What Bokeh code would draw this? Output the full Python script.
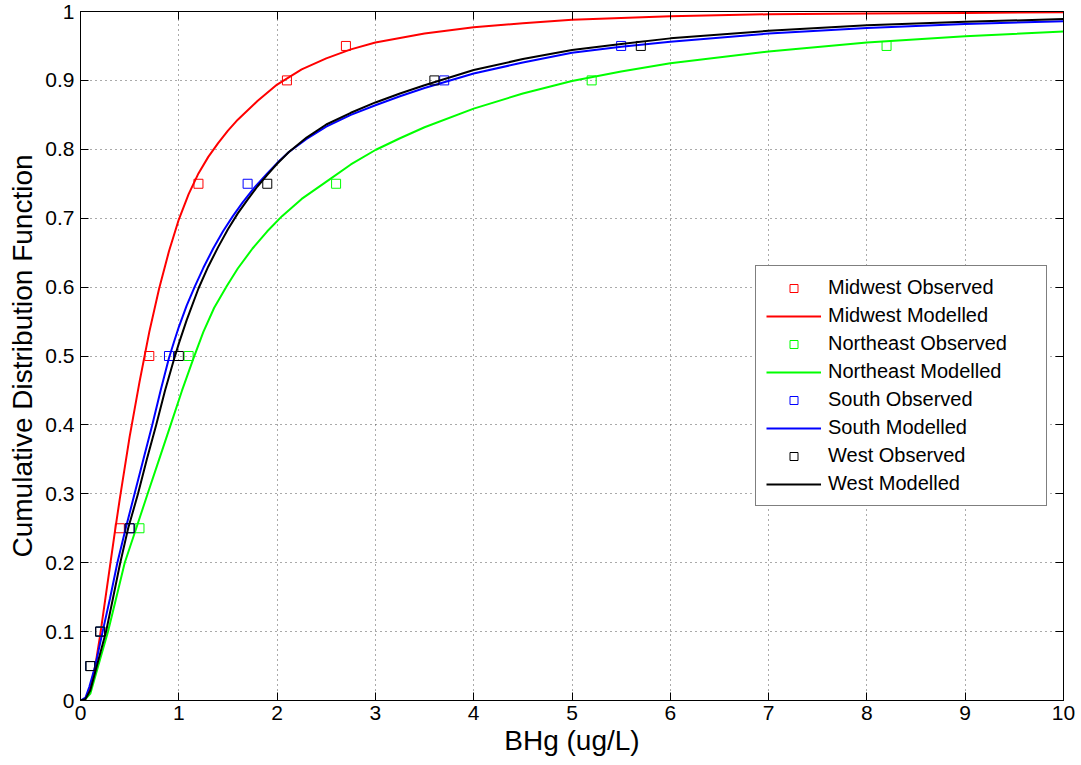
from bokeh.plotting import figure
from bokeh.models import Range1d, FixedTicker, LinearAxis, Legend, LegendItem
from bokeh.embed import file_html
from bokeh.resources import INLINE

# ---- data ----
obs_y = [0.05, 0.10, 0.25, 0.50, 0.75, 0.90, 0.95]
mw_obs_x = [0.1, 0.2, 0.4, 0.7, 1.2, 2.1, 2.7]
ne_obs_x = [0.1, 0.2, 0.6, 1.1, 2.6, 5.2, 8.2]
so_obs_x = [0.1, 0.2, 0.5, 0.9, 1.7, 3.7, 5.5]
we_obs_x = [0.1, 0.2, 0.5, 1.0, 1.9, 3.6, 5.7]

mw_mod_x = [0, 0.05, 0.1, 0.15, 0.2, 0.25, 0.3, 0.35, 0.4, 0.5, 0.6, 0.7, 0.8, 0.9, 1.0, 1.1, 1.2, 1.3,
            1.4, 1.5, 1.6, 1.8, 2.0, 2.25, 2.5, 2.75, 3, 3.5, 4, 4.5, 5, 6, 7, 8, 9, 10]
mw_mod_y = [0, 0.002, 0.018, 0.05, 0.095, 0.145, 0.195, 0.245, 0.293, 0.383, 0.462, 0.535, 0.598, 0.652,
            0.698, 0.735, 0.765, 0.789, 0.809, 0.827, 0.843, 0.870, 0.894, 0.916, 0.932, 0.945, 0.955,
            0.968, 0.977, 0.983, 0.988, 0.993, 0.996, 0.997, 0.998, 0.999]

ne_mod_x = [0, 0.05, 0.1, 0.18, 0.28, 0.365, 0.45, 0.567, 0.683, 0.8, 0.917, 1.033, 1.15, 1.25, 1.36,
            1.49, 1.6, 1.75, 1.9, 2.05, 2.25, 2.48, 2.75, 3.0, 3.25, 3.5, 4, 4.5, 5, 5.5, 6, 7, 8, 9, 10]
ne_mod_y = [0, 0.002, 0.01, 0.05, 0.10, 0.15, 0.20, 0.25, 0.30, 0.35, 0.40, 0.45, 0.497, 0.535, 0.57,
            0.602, 0.627, 0.656, 0.681, 0.703, 0.728, 0.751, 0.778, 0.799, 0.816, 0.832, 0.859, 0.881,
            0.899, 0.913, 0.925, 0.942, 0.955, 0.964, 0.971]

so_mod_x = [0, 0.05, 0.09, 0.15, 0.225, 0.3, 0.375, 0.46, 0.55, 0.64, 0.73, 0.815, 0.9, 0.95, 1.0, 1.08,
            1.16, 1.25, 1.35, 1.45, 1.55, 1.65, 1.76, 1.9, 2.0, 2.12, 2.3, 2.5, 2.75, 3.0, 3.25, 3.5, 4,
            4.5, 5, 5.5, 6, 7, 8, 9, 10]
so_mod_y = [0, 0.004, 0.02, 0.05, 0.10, 0.148, 0.20, 0.25, 0.30, 0.35, 0.40, 0.45, 0.497, 0.52, 0.542,
            0.573, 0.60, 0.628, 0.656, 0.681, 0.703, 0.723, 0.743, 0.765, 0.78, 0.796, 0.815, 0.833,
            0.85, 0.864, 0.877, 0.889, 0.910, 0.926, 0.94, 0.949, 0.956, 0.968, 0.976, 0.982, 0.986]

we_mod_x = [0, 0.05, 0.1, 0.166, 0.26, 0.33, 0.4, 0.485, 0.585, 0.675, 0.77, 0.86, 0.955, 1.0, 1.08,
            1.2, 1.3, 1.4, 1.5, 1.6, 1.7, 1.8, 1.9, 2.0, 2.12, 2.3, 2.5, 2.75, 3.0, 3.25, 3.5, 4, 4.5,
            5, 5.5, 6, 7, 8, 9, 10]
we_mod_y = [0, 0.002, 0.015, 0.05, 0.10, 0.148, 0.197, 0.25, 0.30, 0.35, 0.40, 0.45, 0.497, 0.518,
            0.552, 0.598, 0.63, 0.658, 0.684, 0.707, 0.727, 0.746, 0.763, 0.779, 0.796, 0.817, 0.836,
            0.853, 0.868, 0.881, 0.893, 0.915, 0.931, 0.944, 0.953, 0.961, 0.972, 0.980, 0.985, 0.989]

x_ticks = [0, 1, 2, 3, 4, 5, 6, 7, 8, 9, 10]
y_ticks = [0, 0.1, 0.2, 0.3, 0.4, 0.5, 0.6, 0.7, 0.8, 0.9, 1]
y_tick_labels = ["0", "0.1", "0.2", "0.3", "0.4", "0.5", "0.6", "0.7", "0.8", "0.9", "1"]

series = [
    ("Midwest", mw_obs_x, mw_mod_x, mw_mod_y, "#ff0000"),
    ("Northeast", ne_obs_x, ne_mod_x, ne_mod_y, "#00ff00"),
    ("South", so_obs_x, so_mod_x, so_mod_y, "#0000ff"),
    ("West", we_obs_x, we_mod_x, we_mod_y, "#000000"),
]

FONT = "Liberation Sans"

p = figure(width=1081, height=765, output_backend="svg", toolbar_location=None,
           x_range=Range1d(0, 10), y_range=Range1d(0, 1),
           min_border_left=80, min_border_right=18, min_border_top=11, min_border_bottom=65)
p.background_fill_color = "white"
p.border_fill_color = "white"
p.outline_line_color = "black"
p.outline_line_width = 1

# grid
for g in (p.xgrid, p.ygrid):
    g.grid_line_color = "#555555"
    g.grid_line_dash = "1 4"
    g.grid_line_width = 1
p.xgrid.ticker = FixedTicker(ticks=x_ticks)
p.ygrid.ticker = FixedTicker(ticks=y_ticks)

# main axes
xa = p.xaxis[0]
ya = p.yaxis[0]
xa.ticker = FixedTicker(ticks=x_ticks)
ya.ticker = FixedTicker(ticks=y_ticks)
ya.major_label_overrides = {t: l for t, l in zip(y_ticks, y_tick_labels)}
xa.axis_label = "BHg (ug/L)"
ya.axis_label = "Cumulative Distribution Function"
for ax in (xa, ya):
    ax.axis_line_color = "black"
    ax.major_tick_line_color = "black"
    ax.major_tick_in = 8
    ax.major_tick_out = 0
    ax.minor_tick_line_color = None
    ax.major_label_text_font = FONT
    ax.major_label_text_font_size = "21px"
    ax.major_label_text_color = "black"
    ax.axis_label_text_font = FONT
    ax.axis_label_text_font_size = "28px"
    ax.axis_label_text_font_style = "normal"
    ax.axis_label_text_color = "black"
xa.major_label_standoff = 5
xa.axis_label_standoff = 2
ya.major_label_standoff = 6
ya.axis_label_standoff = 4

# mirrored axes (box ticks, no labels)
ra = LinearAxis(ticker=FixedTicker(ticks=y_ticks))
ta = LinearAxis(ticker=FixedTicker(ticks=x_ticks))
ra.major_label_overrides = {t: "" for t in y_ticks}
ta.major_label_overrides = {t: "" for t in x_ticks}
for ax in (ra, ta):
    ax.axis_line_color = "black"
    ax.major_tick_line_color = "black"
    ax.major_tick_in = 8
    ax.major_tick_out = 0
    ax.minor_tick_line_color = None
    ax.major_label_text_color = None
    ax.major_label_text_font_size = "1px"
    ax.major_label_standoff = 0
p.add_layout(ra, "right")
p.add_layout(ta, "above")

items = []
for name, ox, mx, my, col in series:
    r_obs = p.scatter(ox, obs_y, marker="square", size=9, fill_color=None,
                      line_color=col, line_width=1)
    r_mod = p.line(mx, my, line_color=col, line_width=2)
    items.append(LegendItem(label=f"{name} Observed", renderers=[r_obs]))
    items.append(LegendItem(label=f"{name} Modelled", renderers=[r_mod]))

legend = Legend(items=items, location=(675, 194))
legend.label_text_font = FONT
legend.label_text_font_size = "20px"
legend.label_text_color = "black"
legend.glyph_width = 55
legend.glyph_height = 20
legend.label_height = 20
legend.label_width = 208
legend.label_standoff = 7
legend.spacing = 5
legend.padding = 10
legend.margin = 0
legend.border_line_color = "black"
legend.border_line_width = 1
legend.background_fill_color = "white"
legend.background_fill_alpha = 1
p.add_layout(legend, "center")

open("out.html", "w").write(file_html(p, INLINE))
